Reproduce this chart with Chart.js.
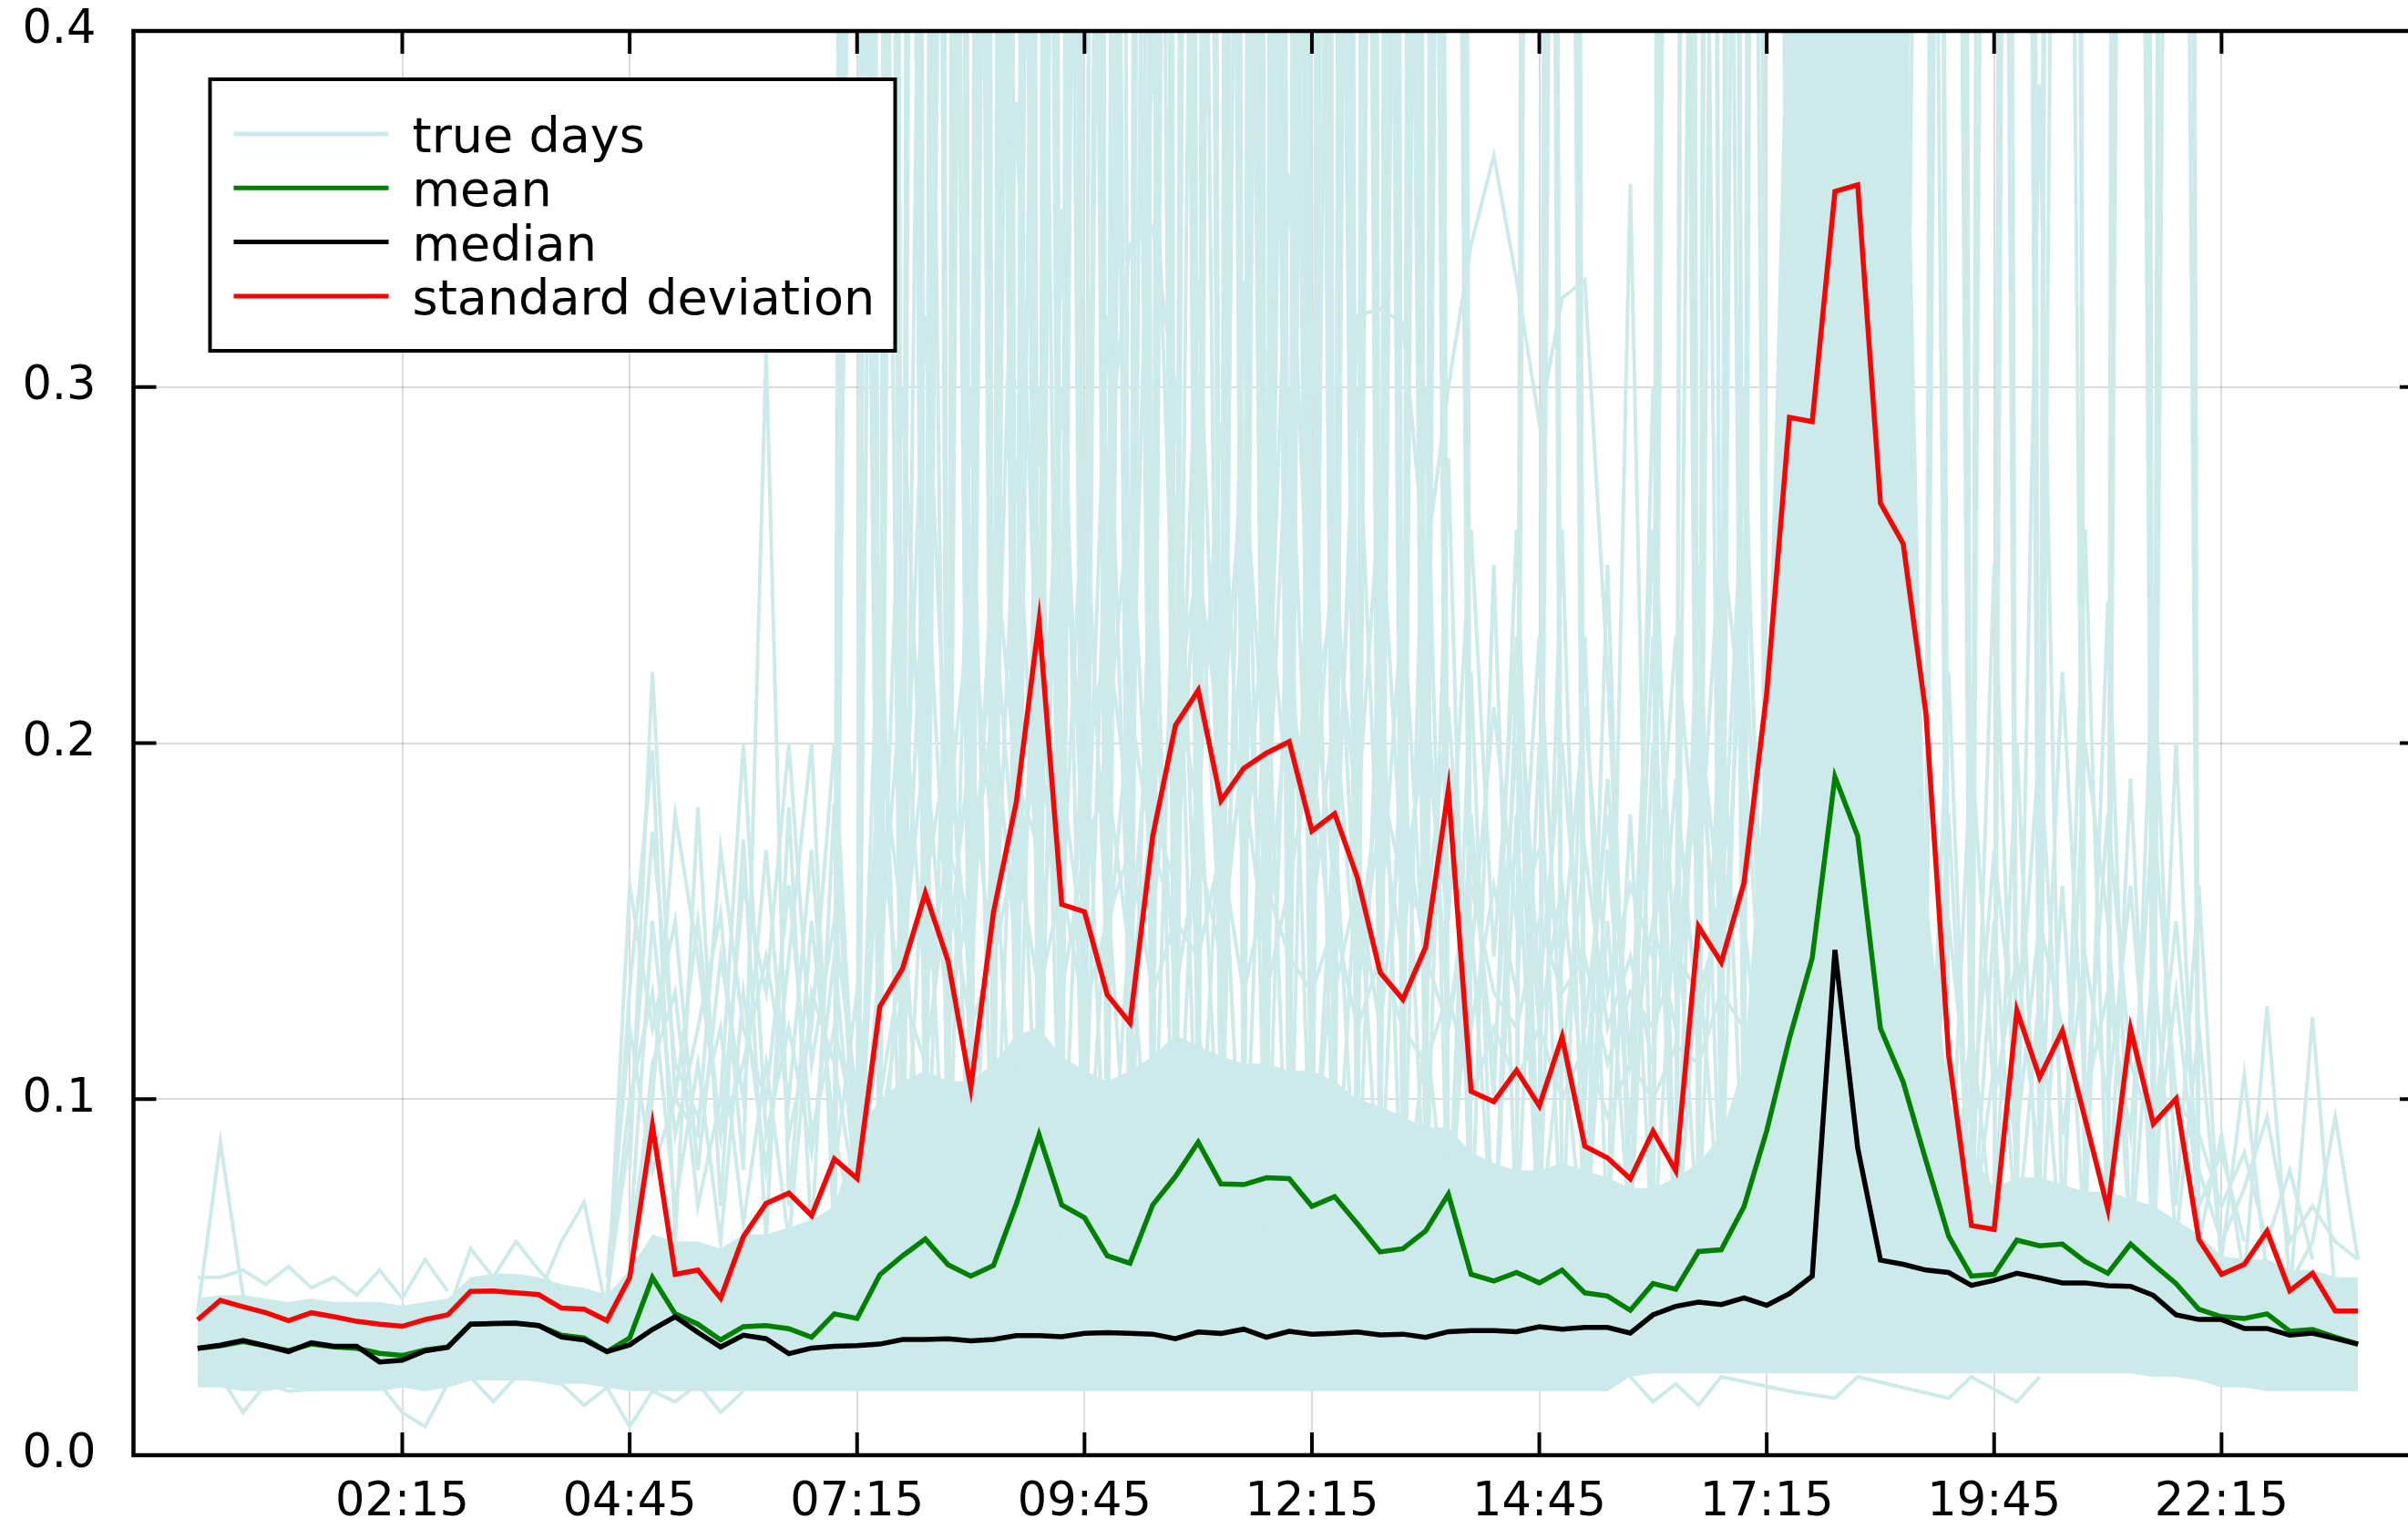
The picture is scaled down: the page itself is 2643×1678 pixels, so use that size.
<!DOCTYPE html>
<html><head><meta charset="utf-8">
<script src="https://cdn.jsdelivr.net/npm/chart.js@4.4.1/dist/chart.umd.min.js"></script>
<style>html,body{margin:0;padding:0;background:#fff;overflow:hidden;width:2643px;height:1678px}canvas{display:block}</style>
</head><body>
<canvas id="c" width="2665" height="1678" style="width:2665px;height:1678px"></canvas>
<script>
// ---------- categories (15-minute slots) ----------
const timeSlots = ["00:00","00:15","00:30","00:45","01:00","01:15","01:30","01:45","02:00","02:15","02:30","02:45",
"03:00","03:15","03:30","03:45","04:00","04:15","04:30","04:45","05:00","05:15","05:30","05:45",
"06:00","06:15","06:30","06:45","07:00","07:15","07:30","07:45","08:00","08:15","08:30","08:45",
"09:00","09:15","09:30","09:45","10:00","10:15","10:30","10:45","11:00","11:15","11:30","11:45",
"12:00","12:15","12:30","12:45","13:00","13:15","13:30","13:45","14:00","14:15","14:30","14:45",
"15:00","15:15","15:30","15:45","16:00","16:15","16:30","16:45","17:00","17:15","17:30","17:45",
"18:00","18:15","18:30","18:45","19:00","19:15","19:30","19:45","20:00","20:15","20:30","20:45",
"21:00","21:15","21:30","21:45","22:00","22:15","22:30","22:45","23:00","23:15","23:30","23:45"];
const xTickLabels = ["02:15","04:45","07:15","09:45","12:15","14:45","17:15","19:45","22:15"];
const yTickValues = [0, 0.1, 0.2, 0.3, 0.4];
const yTickLabels = ["0.0","0.1","0.2","0.3","0.4"];
const legendLabels = ["true days","mean","median","standard deviation"];

// ---------- summary series ----------
const stdValues = [0.038,0.0435,0.0417,0.040,0.0378,0.040,0.0389,0.0376,0.0368,0.0362,
0.0381,0.0394,0.046,0.0461,0.0456,0.0451,0.0413,0.041,0.0378,0.0499,
0.0926,0.0508,0.052,0.0441,0.0614,0.0707,0.0736,0.0673,0.0832,0.0777,
0.126,0.1367,0.1579,0.1388,0.1032,0.1526,0.1834,0.2343,0.1547,0.1526,
0.1293,0.1214,0.1739,0.205,0.2148,0.1838,0.1929,0.1972,0.2004,0.1753,
0.1802,0.1622,0.1356,0.128,0.1427,0.1869,0.1022,0.0993,0.1081,0.0981,
0.1175,0.0868,0.0835,0.0776,0.091,0.0799,0.1485,0.1384,0.1608,0.2141,
0.2915,0.2903,0.3549,0.3568,0.2674,0.256,0.2082,0.1124,0.0645,0.0634,
0.1249,0.1061,0.1192,0.0944,0.0691,0.1197,0.0931,0.1001,0.0606,0.0508,
0.0536,0.0629,0.0462,0.0511,0.0405,0.0405];
const meanValues = [0.030,0.0307,0.0319,0.0307,0.0294,0.0312,0.0304,0.030,0.0286,0.028,
0.0296,0.0304,0.0368,0.037,0.037,0.0364,0.0337,0.0329,0.0291,0.0329,
0.0499,0.0397,0.0368,0.0324,0.0361,0.0364,0.0355,0.0331,0.0397,0.0384,
0.0507,0.056,0.0607,0.0535,0.0503,0.0533,0.0705,0.090,0.0703,0.0667,
0.056,0.0539,0.0703,0.0783,0.0879,0.0762,0.076,0.0779,0.0777,0.0699,
0.0726,0.065,0.0571,0.058,0.063,0.0733,0.0508,0.0489,0.0513,0.0484,
0.052,0.0456,0.0447,0.0407,0.0482,0.0466,0.0572,0.0577,0.0698,0.0911,
0.1171,0.1396,0.1905,0.1739,0.1199,0.1048,0.0828,0.0615,0.0503,0.0508,
0.0604,0.0588,0.0593,0.0544,0.0511,0.0593,0.0536,0.0482,0.041,0.0389,
0.0384,0.0397,0.0348,0.0353,0.0332,0.0312];
const medianValues = [0.030,0.0309,0.0322,0.0307,0.0291,0.0316,0.0306,0.0306,0.0262,0.0267,
0.0293,0.0303,0.0368,0.037,0.0371,0.0364,0.0332,0.0324,0.0291,0.031,
0.0353,0.0389,0.0345,0.0304,0.0337,0.0327,0.0285,0.0301,0.0306,0.0308,
0.0312,0.0325,0.0325,0.0327,0.0321,0.0325,0.0336,0.0336,0.0333,0.0342,
0.0344,0.0342,0.034,0.0327,0.0346,0.0342,0.0354,0.0331,0.0348,0.034,
0.0342,0.0346,0.0338,0.034,0.0331,0.0347,0.035,0.035,0.0347,0.0361,
0.0354,0.0359,0.0359,0.0343,0.0394,0.0418,0.043,0.0423,0.0442,0.0421,
0.0454,0.0503,0.1419,0.0863,0.0548,0.0536,0.052,0.0513,0.0477,0.0491,
0.0511,0.0498,0.0484,0.0484,0.0476,0.0474,0.0449,0.0394,0.0381,0.0381,
0.0356,0.0356,0.0337,0.0343,0.0328,0.0312];

// ---------- true days (values in thousandths) ----------
// dense core of the day curves: lower and upper edge per slot
const daysCoreLow = [19,19,18,18,19,18,18,18,18,19,18,19,
21,21,21,21,20,20,
19,18,18,18,18,18,18,18,18,18,18,
18,18,18,18,18,18,18,18,18,18,18,18,18,18,18,18,18,18,18,18,18,18,18,18,18,18,18,18,18,18,18,18,18,18,
22,23,23,23,23,23,23,23,23,23,23,23,23,23,23,23,23,23,23,23,23,23,23,22,22,21,
19,19,18,18,18,18,18];
const daysCoreHigh = [44,45,45,44,43,44,43,43,43,42,43,44,
50,51,51,50,48,47,
45,52,
62,60,60,58,62,62,64,66,70,
90,100,105,108,105,105,110,118,120,112,108,105,108,112,118,115,112,110,110,108,108,105,100,98,
95,92,92,85,82,80,80,82,80,78,75,75,78,82,90,110,
200,450,450,450,450,450,450,160,100,85,
75,78,78,76,74,74,72,70,66,62,
56,55,55,52,52,50,50];
// individual day curves leaving the core: [slot, value, slot, value, ...]
const day01 = [28,50, 29,1800, 30,60, 31,900, 32,55, 34,70, 35,2500, 36,60, 37,1200, 38,70, 40,60, 41,700, 42,65, 43,3000, 44,70, 46,55, 47,1500, 48,60, 49,800, 50,75, 52,60, 53,2000, 54,50];
const day02 = [28,45, 29,700, 30,55, 31,60, 32,2200, 33,50, 35,65, 36,1000, 37,60, 38,2600, 39,55, 41,70, 42,1300, 43,60, 44,650, 45,80, 47,60, 48,2000, 49,65, 50,1100, 51,60, 53,55, 54,900, 55,45];
const day03 = [29,60, 30,2400, 31,50, 32,65, 33,800, 34,60, 35,1400, 36,70, 37,600, 38,55, 39,60, 40,1900, 41,70, 42,65, 43,1000, 44,60, 45,70, 46,2800, 47,55, 49,60, 50,700, 51,65, 52,1600, 53,50];
const day04 = [29,55, 30,1100, 31,60, 33,50, 34,2000, 35,60, 36,750, 37,70, 38,65, 39,1700, 40,60, 41,2300, 42,55, 43,60, 44,1200, 45,70, 46,65, 47,850, 48,60, 49,2700, 50,55, 52,60, 53,1000, 54,70, 55,1500, 56,55];
const day05 = [30,60, 31,2600, 32,55, 33,1300, 34,60, 36,65, 37,2100, 38,60, 39,55, 40,900, 41,65, 42,1800, 43,55, 44,60, 45,1100, 46,70, 47,65, 48,650, 49,60, 50,55, 51,2400, 52,60, 53,70, 54,1400, 55,50];
const day06 = [28,55, 29,1300, 30,65, 31,50, 32,600, 33,60, 34,55, 35,1700, 36,60, 37,70, 38,1200, 39,65, 40,55, 41,1000, 42,60, 44,65, 45,70, 46,1500, 47,60, 48,3000, 49,55, 51,65, 52,900, 53,60, 54,55, 55,2200, 56,60, 58,65, 59,70, 60,1600, 61,55];
const day07 = [29,50, 30,650, 31,55, 33,60, 34,1400, 35,65, 36,55, 37,1000, 38,60, 39,2200, 40,65, 42,60, 43,1700, 44,55, 45,2000, 46,60, 47,1100, 48,70, 49,55, 50,1300, 51,60, 52,65, 53,750, 54,60, 56,50, 58,60, 59,1200, 60,55];
const day08 = [30,55, 31,1500, 32,60, 34,50, 35,65, 36,2300, 37,60, 38,800, 39,55, 41,60, 42,2600, 43,65, 44,1500, 45,55, 46,700, 47,60, 48,65, 49,1900, 50,60, 51,1000, 52,55, 53,60, 54,2100, 55,65, 57,60, 59,55, 60,900, 61,50];
const day09 = [64,50, 65,1200, 66,55, 67,2000, 68,60, 69,1500, 70,80, 76,70, 77,1300, 78,60, 79,55, 80,2000, 81,60, 84,55, 85,1400, 86,50];
const day10 = [65,55, 66,1800, 67,60, 68,900, 69,100, 75,120, 76,1500, 77,65, 78,55, 79,1000, 80,60, 81,55, 82,1700, 83,60, 86,55, 87,2000, 88,50];
const day11 = [58,60, 59,2000, 60,55, 62,60, 63,357, 64,60, 65,55, 66,700, 67,65, 68,2500, 69,110, 75,150, 76,800, 77,60, 79,55, 80,1100, 81,60, 82,2300, 83,55, 86,60, 87,900, 88,55];
const day12 = [59,60, 60,1000, 61,55, 64,60, 65,2500, 66,60, 67,800, 68,70, 69,2800, 70,120, 76,130, 77,2000, 78,60, 84,55, 85,2600, 86,60];
const day13 = [18,40, 19,131, 20,198, 21,60, 22,182, 23,70, 24,173, 25,60, 26,182, 27,60, 28,183, 29,70];
const day14 = [19,60, 20,150, 21,90, 22,120, 23,152, 24,80, 25,310, 26,70, 27,150, 28,90, 29,60];
const day15 = [18,45, 19,100, 20,130, 21,70, 22,110, 23,60, 24,130, 25,80, 26,140, 27,200, 28,60];
const day16 = [18,45, 19,90, 20,175, 21,110, 22,95, 23,120, 24,65, 25,110, 26,60, 27,130, 28,110, 29,70];
const day17 = [29,60, 30,250, 31,60, 32,180, 33,55, 34,300, 35,60, 36,220, 37,70, 38,350, 39,60, 40,160, 41,65, 42,280, 43,60, 44,200, 45,70, 46,330, 47,60, 48,260, 49,65, 50,180, 51,60, 52,240, 53,55, 54,300, 55,60, 56,220, 57,55, 58,180, 59,60, 60,260, 61,55, 62,150, 63,60, 64,200, 65,55, 66,250, 67,60, 68,300, 69,80];
const day18 = [30,60, 31,160, 32,55, 33,240, 34,60, 35,180, 36,65, 37,300, 38,60, 39,220, 40,55, 41,150, 42,60, 43,270, 44,65, 45,190, 46,60, 47,230, 48,55, 49,320, 50,60, 51,170, 52,65, 53,210, 54,60, 55,280, 56,55, 57,250, 58,60, 59,200, 60,55, 61,230, 62,60, 63,180, 64,55, 65,160, 66,60, 67,220, 68,70];
const day19 = [49,70, 50,150, 51,320, 52,322, 53,318, 54,250, 55,300, 56,340, 57,365, 58,330, 59,290, 60,325, 61,330, 62,220, 63,80];
const day20 = [39,80, 40,277, 41,340, 42,345, 43,300, 44,120, 45,70];
const day21 = [76,60, 77,180, 78,60, 79,250, 80,70, 81,385, 82,60, 83,200, 84,150, 85,60, 86,230, 87,70, 88,160, 89,50];
const day22 = [77,55, 78,120, 79,60, 80,200, 81,55, 82,160, 83,60, 84,240, 85,55, 86,140, 87,60, 88,120, 89,55, 90,107, 91,50, 92,45, 93,123, 94,45];
const day23 = [76,60, 77,220, 78,55, 79,150, 80,60, 81,130, 82,55, 83,260, 84,60, 85,190, 86,55, 87,200, 88,60, 89,90, 90,50, 91,126, 92,48, 93,60, 94,95, 95,55];
const day24 = [55,60, 56,150, 57,55, 58,220, 59,60, 60,120, 61,55, 62,250, 63,60, 64,300, 65,55, 66,140, 67,60];
const day25 = [53,55, 54,120, 55,60, 56,180, 57,100, 58,260, 59,70, 61,60, 62,170, 63,90, 64,230, 65,60];
const day26 = [0,40, 1,88, 2,45, 3,35];
const day27 = [15,45, 16,60, 17,71, 18,40, 19,45];
const day28 = [0,20, 1,22, 2,12, 3,20, 4,18, 8,20, 9,12, 10,8, 11,20];
const day29 = [11,40, 12,58, 13,50, 14,60, 15,52, 16,45];
const day30 = [0,50, 1,50, 2,52, 3,48, 4,53, 5,47, 6,50, 7,45, 8,52, 9,44, 10,55, 11,46];
const day31 = [12,22, 13,15, 14,22, 16,20, 17,14, 18,19, 19,8, 20,18, 21,15, 22,20, 23,12, 24,18];
const day32 = [63,22, 64,15, 65,20, 66,14, 67,22, 70,18, 72,16, 73,22, 77,16, 78,22, 80,15, 81,22];
const day33 = [28,60, 29,2100, 30,55, 31,1100, 32,60, 33,1700, 34,65, 35,60, 36,900, 37,70, 38,55, 39,2500, 40,60, 41,65, 42,1400, 43,60, 44,55, 45,1900, 46,65, 47,60, 48,1200, 49,70, 50,55, 51,2800, 52,60, 53,65, 54,1600, 55,60];
const day34 = [29,55, 30,1600, 31,60, 32,2400, 33,55, 34,70, 35,1100, 36,60, 37,65, 38,1800, 39,60, 40,750, 41,55, 42,60, 43,2200, 44,70, 45,65, 46,1000, 47,55, 48,60, 49,1400, 50,65, 51,60, 52,2600, 53,55, 54,65, 55,900, 56,60];
const day35 = [28,50, 29,950, 30,60, 31,55, 32,1700, 33,65, 34,2600, 35,60, 36,55, 37,1500, 38,70, 39,60, 40,2000, 41,55, 42,800, 43,65, 44,1600, 45,60, 46,55, 47,2300, 48,60, 49,70, 50,1000, 51,55, 52,60, 53,1800, 54,65];
const day36 = [30,60, 31,1900, 32,55, 33,700, 34,60, 35,65, 36,1300, 37,60, 38,55, 39,900, 40,65, 41,2400, 42,60, 43,70, 44,2000, 45,55, 46,1200, 47,60, 48,1700, 49,65, 50,60, 51,1300, 52,55, 53,2500, 54,60];
const day37 = [29,60, 30,1300, 31,55, 32,65, 33,2300, 34,60, 35,800, 36,55, 37,65, 38,1500, 39,60, 40,55, 41,1800, 42,60, 43,1100, 44,70, 45,2700, 46,60, 47,55, 48,900, 49,65, 50,2100, 51,60, 52,1200, 53,55, 54,1700, 55,60];
const day38 = [31,55, 32,1400, 33,60, 34,900, 35,65, 36,1800, 37,55, 38,60, 39,1300, 40,70, 41,55, 42,2100, 43,60, 44,65, 45,1500, 46,60, 47,2400, 48,55, 49,1100, 50,60, 51,65, 52,1900, 53,60, 54,55, 55,1200, 56,60];
const day39 = [59,55, 60,1800, 61,60, 64,55, 65,900, 66,60, 67,1500, 68,65, 69,2200, 70,100, 75,110, 76,1900, 77,60, 79,55, 80,1400, 81,60, 82,800, 83,55];
const day40 = [58,60, 59,1400, 60,55, 65,60, 66,2200, 67,55, 68,1600, 69,120, 76,120, 77,900, 78,55, 79,1800, 80,60, 84,55, 85,1000, 86,60, 87,1500, 88,55];
const day41 = [18,40, 19,160, 20,120, 21,150, 22,80, 23,140, 24,100, 25,170, 26,90, 27,120, 28,200, 29,80];
const day42 = [19,50, 20,110, 21,130, 22,70, 23,100, 24,200, 25,90, 26,120, 27,85, 28,140, 29,70];
const day43 = [18,50, 19,120, 20,80, 21,100, 22,150, 23,90, 24,110, 25,140, 26,100, 27,170, 28,80, 29,130, 30,70];
const day44 = [29,70, 30,180, 31,120, 32,260, 33,140, 34,200, 35,130, 36,280, 37,150, 38,190, 39,140, 40,320, 41,130, 42,180, 43,160, 44,260, 45,140, 46,200, 47,170, 48,300, 49,150, 50,210, 51,130, 52,180, 53,140, 54,220, 55,120, 56,170, 57,110, 58,200, 59,120, 60,160, 61,100, 62,190, 63,110, 64,150, 65,120, 66,200, 67,130, 68,240, 69,100];
const day45 = [29,60, 30,140, 31,220, 32,130, 33,170, 34,150, 35,240, 36,160, 37,200, 38,150, 39,280, 40,140, 41,210, 42,170, 43,150, 44,330, 45,160, 46,190, 47,140, 48,220, 49,170, 50,260, 51,140, 52,190, 53,160, 54,150, 55,210, 56,120, 57,160, 58,130, 59,230, 60,110, 61,170, 62,120, 63,140, 64,110, 65,190, 66,120, 67,160, 68,150, 69,90];
const day46 = [30,90, 31,130, 32,110, 33,160, 34,120, 35,140, 36,170, 37,130, 38,160, 39,125, 40,150, 41,170, 42,130, 43,150, 44,140, 45,170, 46,130, 47,160, 48,140, 49,130, 50,150, 51,120, 52,140, 53,120, 54,110, 55,130, 56,100, 57,120, 58,105, 59,120, 60,100, 61,115, 62,95, 63,110, 64,100, 65,115, 66,110, 67,130, 68,120];
const day47 = [76,70, 77,150, 78,90, 79,170, 80,110, 81,200, 82,90, 83,140, 84,100, 85,160, 86,80, 87,130, 88,70, 89,85, 90,60];
const day48 = [77,60, 78,200, 79,100, 80,140, 81,80, 82,220, 83,100, 84,130, 85,90, 86,180, 87,100, 88,90, 89,70, 90,85, 91,60, 92,80, 93,55];
const day49 = [78,60, 79,110, 80,90, 81,150, 82,120, 83,95, 84,180, 85,110, 86,90, 87,150, 88,80, 89,60, 90,75, 91,95, 92,60, 93,70, 94,60, 95,55];
const day50 = [29,80, 30,200, 31,150, 32,320, 33,180, 34,240, 35,170, 36,380, 37,200, 38,260, 39,190, 40,230, 41,180, 42,400, 43,210, 44,250, 45,200, 46,280, 47,190, 48,360, 49,210, 50,240, 51,180, 52,270, 53,160, 54,200, 55,150, 56,260, 57,140, 58,230, 59,130, 60,200, 61,120, 62,180, 63,110, 64,260, 65,130, 66,210, 67,150, 68,280, 69,110];
const day51 = [29,70, 30,120, 31,300, 32,160, 33,200, 34,130, 35,260, 36,190, 37,170, 38,300, 39,160, 40,200, 41,270, 42,150, 43,220, 44,180, 45,290, 46,160, 47,250, 48,180, 49,220, 50,160, 51,300, 52,150, 53,240, 54,130, 55,180, 56,140, 57,210, 58,150, 59,170, 60,140, 61,210, 62,130, 63,160, 64,140, 65,230, 66,160, 67,260, 68,200, 69,100];
const day52 = [30,100, 31,140, 32,200, 33,120, 34,160, 35,210, 36,140, 37,230, 38,130, 39,170, 40,190, 41,140, 42,220, 43,130, 44,170, 45,140, 46,240, 47,130, 48,160, 49,200, 50,130, 51,160, 52,120, 53,180, 54,140, 55,120, 56,160, 57,130, 58,120, 59,150, 60,130, 61,140, 62,110, 63,130, 64,120, 65,140, 66,130, 67,150, 68,160];
const day53 = [19,60, 20,100, 21,180, 22,140, 23,90, 24,160, 25,130, 26,200, 27,110, 28,150, 29,100];
const day54 = [19,80, 20,220, 21,100, 22,90, 23,170, 24,120, 25,100, 26,160, 27,90, 28,120, 29,90];
const trueDays = [day01,day02,day03,day04,day05,day06,day07,day08,day09,day10,day11,day12,day13,day14,day15,day16,
  day17,day18,day19,day20,day21,day22,day23,day24,day25,day26,day27,day28,day29,day30,day31,day32,
  day33,day34,day35,day36,day37,day38,day39,day40,day41,day42,day43,day44,day45,day46,day47,day48,day49,
  day50,day51,day52,day53,day54];

// ---------- build ----------
const CYAN = 'rgb(205,234,235)';
const GREEN = 'rgb(0,128,0)';
const RED = 'rgb(255,0,0)';
const BLACK = 'rgb(0,0,0)';
const xTickValues = xTickLabels.map(l => timeSlots.indexOf(l));
const fromPairs = arr => { const out = []; for (let i = 0; i < arr.length; i += 2) out.push({x: arr[i], y: arr[i + 1] / 1000}); return out; };
const fromSeries = (arr, k) => arr.map((v, i) => ({x: i, y: v * k}));

const datasets = [];
datasets.push({label: '_coreLow', data: fromSeries(daysCoreLow, 0.001), borderWidth: 0, borderColor: CYAN, pointRadius: 0, fill: false, order: 101});
datasets.push({label: '_coreHigh', data: fromSeries(daysCoreHigh, 0.001), borderWidth: 0, borderColor: CYAN, backgroundColor: CYAN, pointRadius: 0, fill: '-1', order: 100});
trueDays.forEach((d, k) => datasets.push({label: k === 0 ? 'true days' : '_day' + k, data: fromPairs(d), borderColor: CYAN, borderWidth: 4, pointRadius: 0, fill: false, order: 10}));
datasets.push({label: 'mean', data: fromSeries(meanValues, 1), borderColor: GREEN, borderWidth: 5.5, pointRadius: 0, fill: false, order: 2});
datasets.push({label: 'median', data: fromSeries(medianValues, 1), borderColor: BLACK, borderWidth: 5.5, pointRadius: 0, fill: false, order: 1});
datasets.push({label: 'standard deviation', data: fromSeries(stdValues, 1), borderColor: RED, borderWidth: 5.5, pointRadius: 0, fill: false, order: 0});

const TICK_FONT = {family: 'DejaVu Sans', size: 51};

const framePlugin = {
  id: 'frame',
  afterDraw(chart) {
    const {ctx, chartArea: a, scales: {x, y}} = chart;
    ctx.save();
    ctx.strokeStyle = '#000';
    ctx.lineWidth = 4.5;
    ctx.strokeRect(a.left, a.top, a.right - a.left, a.bottom - a.top);
    ctx.lineWidth = 4;
    const tl = 25;
    ctx.beginPath();
    x.ticks.forEach(t => {
      const p = x.getPixelForValue(t.value);
      ctx.moveTo(p, a.bottom); ctx.lineTo(p, a.bottom - tl);
      ctx.moveTo(p, a.top); ctx.lineTo(p, a.top + tl);
    });
    y.ticks.forEach(t => {
      const p = y.getPixelForValue(t.value);
      ctx.moveTo(a.left, p); ctx.lineTo(a.left + tl, p);
      ctx.moveTo(a.right, p); ctx.lineTo(a.right - tl, p);
    });
    ctx.stroke();
    ctx.restore();
  }
};

const legendPlugin = {
  id: 'boxLegend',
  afterDraw(chart) {
    const {ctx, chartArea: a} = chart;
    const bx = a.left + 84, by = a.top + 53, bw = 752, bh = 298;
    ctx.save();
    ctx.fillStyle = '#fff';
    ctx.fillRect(bx, by, bw, bh);
    ctx.lineWidth = 4;
    ctx.strokeStyle = '#000';
    ctx.strokeRect(bx, by, bw, bh);
    ctx.font = '54px "DejaVu Sans"';
    ctx.textBaseline = 'alphabetic';
    ctx.textAlign = 'left';
    legendLabels.forEach((lab, i) => {
      const ds = chart.data.datasets.find(d => d.label === lab);
      const ly = by + 60 + i * 59.3;
      ctx.strokeStyle = ds.borderColor;
      ctx.lineWidth = 5;
      ctx.beginPath(); ctx.moveTo(bx + 26, ly); ctx.lineTo(bx + 196, ly); ctx.stroke();
      ctx.fillStyle = '#000';
      ctx.fillText(lab, bx + 222, ly + 20);
    });
    ctx.restore();
  }
};

new Chart(document.getElementById('c'), {
  type: 'line',
  data: {datasets},
  plugins: [framePlugin, legendPlugin],
  options: {
    responsive: false,
    animation: false,
    devicePixelRatio: 1,
    layout: {padding: {left: 0, right: 6, top: 34, bottom: 0}},
    plugins: {legend: {display: false}, tooltip: {enabled: false}},
    elements: {point: {radius: 0}, line: {tension: 0}},
    scales: {
      x: {
        type: 'linear', min: -2.82, max: 97.84, bounds: 'data',
        afterBuildTicks: s => { s.ticks = xTickValues.map(v => ({value: v})); },
        afterFit: s => { s.height = 81; s.paddingLeft = 0; s.paddingRight = 0; },
        ticks: {autoSkip: false, maxRotation: 0, minRotation: 0, padding: 22, color: '#000', font: TICK_FONT,
          callback: v => timeSlots[v]},
        grid: {color: 'rgba(0,0,0,0.14)', lineWidth: 2, drawTicks: false},
        border: {display: false}
      },
      y: {
        type: 'linear', min: 0, max: 0.4, bounds: 'data',
        afterBuildTicks: s => { s.ticks = yTickValues.map(v => ({value: v})); },
        afterFit: s => { s.width = 146.5; s.paddingTop = 0; s.paddingBottom = 0; },
        ticks: {padding: 41, color: '#000', font: TICK_FONT,
          callback: v => yTickLabels[yTickValues.indexOf(v)]},
        grid: {color: 'rgba(0,0,0,0.14)', lineWidth: 2, drawTicks: false},
        border: {display: false}
      }
    }
  }
});
</script>
</body></html>
